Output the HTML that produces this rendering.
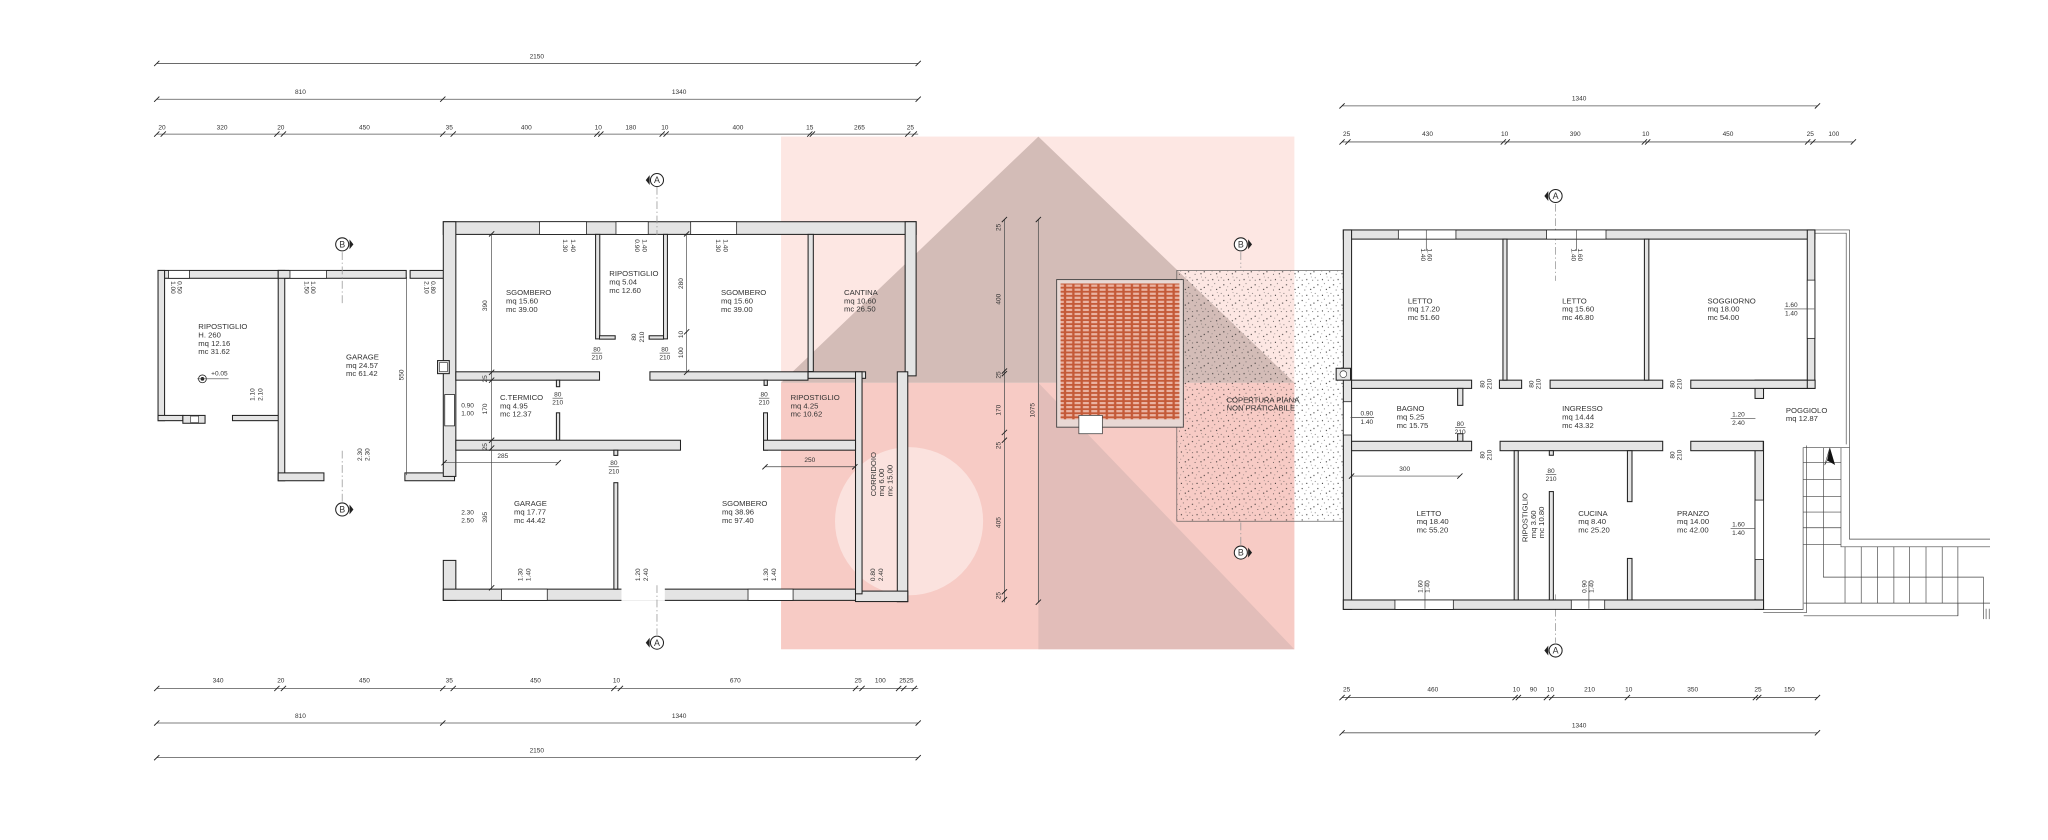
<!DOCTYPE html>
<html><head><meta charset="utf-8"><style>
html,body{margin:0;padding:0;background:#fff}
svg{display:block}
text{font-family:"Liberation Sans",sans-serif;fill:#333}
.t{font-size:5.9px}
.d{font-size:5px;text-anchor:middle}
.w{fill:#e4e4e4;stroke:#222;stroke-width:0.8}
.win{fill:#fff;stroke:#222;stroke-width:0.6}
.dl{stroke:#555;stroke-width:0.6;fill:none}
.tk{stroke:#222;stroke-width:0.7}
.ln{stroke:#444;stroke-width:0.5;fill:none}
.sec{stroke:#999;stroke-width:0.6;stroke-dasharray:6,2,1,2;fill:none}
</style></head><body>
<svg width="2048" height="840" viewBox="0 0 1568 643" xmlns="http://www.w3.org/2000/svg">
<defs>
<pattern id="tile" width="6.4" height="3.1" patternUnits="userSpaceOnUse" x="809" y="214">
<rect width="6.4" height="3.1" fill="#c45a38"/><rect x="0.9" y="0.7" width="4.6" height="1.7" fill="#eab3a2"/>
</pattern>
<pattern id="dots" width="12" height="12" patternUnits="userSpaceOnUse">
<circle cx="1" cy="2" r="0.45" fill="#222"/><circle cx="6" cy="1" r="0.35" fill="#444"/><circle cx="10" cy="4" r="0.45" fill="#222"/>
<circle cx="3" cy="6" r="0.35" fill="#333"/><circle cx="7.5" cy="5.5" r="0.45" fill="#222"/><circle cx="11" cy="8.5" r="0.35" fill="#444"/>
<circle cx="4.5" cy="10" r="0.45" fill="#222"/><circle cx="9" cy="10.5" r="0.35" fill="#333"/><circle cx="1" cy="10.5" r="0.35" fill="#333"/>
<circle cx="8" cy="8" r="0.3" fill="#555"/><circle cx="4" cy="3.5" r="0.3" fill="#555"/>
</pattern>
</defs>

<!-- pink overlay -->
<rect x="598" y="104.5" width="393" height="392.5" fill="#fde7e3"/>
<rect x="598" y="293" width="393" height="204" fill="#f7cbc5"/>
<circle cx="696" cy="399" r="56.7" fill="#fbe2de"/>
<polygon points="795,104.5 598,293 991,293" fill="#d3bcb7"/>
<polygon points="795,293 795,497 991,497" fill="#e2bdb9"/>

<!-- dotted roof -->
<rect x="901" y="207" width="129" height="192" fill="url(#dots)" stroke="#555" stroke-width="0.5"/>
<!-- tiled roof -->
<rect x="809" y="214" width="97" height="113" fill="#e8d8d4" stroke="#444" stroke-width="0.7"/>
<rect x="812" y="217" width="91" height="104" fill="url(#tile)"/>
<rect x="826" y="318" width="18" height="14" fill="#fff" stroke="#444" stroke-width="0.6"/>
<text class="t" x="939" y="308">COPERTURA PIANA</text>
<text class="t" x="939" y="314.4">NON PRATICABILE</text>

<!-- ============ LEFT DIMENSIONS ============ -->
<g>
<line class="dl" x1="120" y1="48.5" x2="703" y2="48.5"/>
<text class="d" x="411" y="44.6">2150</text>
<line class="dl" x1="120" y1="75.9" x2="703" y2="75.9"/>
<text class="d" x="230" y="72">810</text><text class="d" x="520" y="72">1340</text>
<line class="dl" x1="120" y1="102.6" x2="703" y2="102.6"/>
<g class="tk">
<path d="M118,50.5l4,-4M701,50.5l4,-4M118,77.9l4,-4M337,77.9l4,-4M701,77.9l4,-4"/>
<path d="M118,104.6l4,-4M123,104.6l4,-4M210,104.6l4,-4M215,104.6l4,-4M337,104.6l4,-4M345,104.6l4,-4M455,104.6l4,-4M458,104.6l4,-4M505,104.6l4,-4M508,104.6l4,-4M618,104.6l4,-4M620,104.6l4,-4M693,104.6l4,-4M698,104.6l4,-4"/>
</g>
<text class="d" x="124" y="99">20</text><text class="d" x="170" y="99">320</text><text class="d" x="215" y="99">20</text><text class="d" x="279" y="99">450</text><text class="d" x="344" y="99">35</text><text class="d" x="403" y="99">400</text><text class="d" x="458" y="99">10</text><text class="d" x="483" y="99">180</text><text class="d" x="509" y="99">10</text><text class="d" x="565" y="99">400</text><text class="d" x="620" y="99">15</text><text class="d" x="658" y="99">265</text><text class="d" x="697" y="99">25</text>

<line class="dl" x1="120" y1="527" x2="703" y2="527"/>
<path class="tk" d="M118,529l4,-4M210,529l4,-4M215,529l4,-4M337,529l4,-4M345,529l4,-4M468,529l4,-4M473,529l4,-4M653,529l4,-4M658,529l4,-4M686,529l4,-4M690,529l4,-4M698,529l4,-4"/>
<text class="d" x="167" y="522.5">340</text><text class="d" x="215" y="522.5">20</text><text class="d" x="279" y="522.5">450</text><text class="d" x="344" y="522.5">35</text><text class="d" x="410" y="522.5">450</text><text class="d" x="472" y="522.5">10</text><text class="d" x="563" y="522.5">670</text><text class="d" x="657" y="522.5">25</text><text class="d" x="674" y="522.5">100</text><text class="d" x="694" y="522.5">2525</text>
<line class="dl" x1="120" y1="553.5" x2="703" y2="553.5"/>
<path class="tk" d="M118,555.5l4,-4M337,555.5l4,-4M701,555.5l4,-4"/>
<text class="d" x="230" y="549.5">810</text><text class="d" x="520" y="549.5">1340</text>
<line class="dl" x1="120" y1="580" x2="703" y2="580"/>
<path class="tk" d="M118,582l4,-4M701,582l4,-4"/>
<text class="d" x="411" y="576">2150</text>
</g>

<!-- vertical dims middle -->
<line class="dl" x1="769" y1="168" x2="769" y2="461"/>
<path class="tk" d="M767,170l4,-4M767,286l4,-4M767,288l4,-4M767,333l4,-4M767,339l4,-4M767,455l4,-4M767,461l4,-4"/>
<g class="d">
<text transform="translate(766,174) rotate(-90)">25</text>
<text transform="translate(766,229) rotate(-90)">400</text>
<text transform="translate(766,287) rotate(-90)">25</text>
<text transform="translate(766,314) rotate(-90)">170</text>
<text transform="translate(766,341) rotate(-90)">25</text>
<text transform="translate(766,400) rotate(-90)">405</text>
<text transform="translate(766,456) rotate(-90)">25</text>
</g>
<line class="dl" x1="795" y1="168" x2="795" y2="461"/>
<path class="tk" d="M793,170l4,-4M793,463l4,-4"/>
<text class="d" transform="translate(792,314) rotate(-90)">1075</text>

<!-- ============ LEFT PLAN WALLS ============ -->
<g>
<rect class="w" x="121" y="207" width="100" height="6"/>
<rect class="w" x="121" y="207" width="5" height="115"/>
<rect class="w" x="121" y="318" width="19" height="4"/>
<rect class="w" x="178" y="318" width="36" height="4"/>
<rect class="w" x="140" y="318" width="17" height="6"/>
<rect x="146" y="318.5" width="6" height="5" fill="#fff" stroke="#333" stroke-width="0.5"/>
<rect class="w" x="213" y="207" width="5" height="161"/>
<rect class="w" x="213" y="207" width="98" height="6"/>
<rect class="w" x="314" y="207" width="26" height="6"/>
<rect class="w" x="213" y="362" width="35" height="6"/>
<rect class="w" x="310" y="362" width="38" height="6"/>
<rect class="win" x="129" y="207" width="16" height="6"/>
<rect class="win" x="222" y="207" width="28" height="6"/>
<rect class="w" x="339.4" y="169.7" width="362" height="9.7"/>
<rect class="w" x="339.4" y="169.7" width="9.6" height="195"/>
<rect class="w" x="339.4" y="429" width="9.6" height="30.6"/>
<rect class="w" x="693" y="169.7" width="8.4" height="118"/>
<rect class="w" x="687" y="284.6" width="8" height="176"/>
<rect class="w" x="339.4" y="451" width="316" height="8.6"/>
<rect class="w" x="655" y="452.5" width="40" height="8"/>
<rect class="w" x="618.7" y="179.4" width="4" height="105"/>
<rect class="w" x="618.7" y="284.6" width="44" height="5"/>
<rect class="w" x="655" y="284.6" width="5" height="170"/>
<rect class="w" x="349" y="284.6" width="110" height="6.4"/>
<rect class="w" x="426" y="291" width="2.5" height="5"/>
<rect class="w" x="497.6" y="284.6" width="121" height="6.4"/>
<rect class="w" x="585" y="291" width="2.5" height="4"/>
<rect class="w" x="456" y="179.4" width="3.2" height="80"/>
<rect class="w" x="459" y="257" width="12" height="2.6"/>
<rect class="w" x="508" y="179.4" width="3" height="80"/>
<rect class="w" x="497" y="257" width="11" height="2.6"/>
<rect class="w" x="426" y="316" width="2.5" height="21"/>
<rect class="w" x="349" y="337" width="172" height="7.6"/>
<rect class="w" x="470" y="344.6" width="3" height="4"/>
<rect class="w" x="470" y="369.5" width="3" height="81.5"/>
<rect class="w" x="584.6" y="316" width="3" height="28.6"/>
<rect class="w" x="584.6" y="337" width="70.4" height="7.6"/>
<rect class="win" x="413" y="169.7" width="36" height="9.7"/>
<rect class="win" x="471.6" y="169.7" width="24.7" height="9.7"/>
<rect class="win" x="528.8" y="169.7" width="35.2" height="9.7"/>
<rect class="win" x="384" y="451" width="35" height="8.6"/>
<rect class="win" x="572.7" y="451" width="34.5" height="8.6"/>
<rect class="win" x="340.5" y="302" width="7.5" height="24"/>
<rect class="w" x="335" y="276" width="9" height="10"/>
<rect x="336.5" y="277.5" width="6" height="7" fill="#fff" stroke="#333" stroke-width="0.5"/>
<rect x="475.8" y="450.5" width="33.2" height="9.5" fill="#fff"/>
</g>

<!-- left plan inner dims -->
<line class="ln" x1="376.4" y1="179" x2="376.4" y2="451"/>
<path class="tk" d="M374.4,181l4,-4M374.4,287l4,-4M374.4,293l4,-4M374.4,339l4,-4M374.4,345l4,-4M374.4,452l4,-4"/>
<g class="d">
<text transform="translate(373,234) rotate(-90)">390</text>
<text transform="translate(373,313) rotate(-90)">170</text>
<text transform="translate(373,396) rotate(-90)">395</text>
<text transform="translate(373,290) rotate(-90)">25</text>
<text transform="translate(373,342) rotate(-90)">25</text>
</g>
<line class="ln" x1="525.7" y1="179" x2="525.7" y2="285"/>
<path class="tk" d="M523.7,181l4,-4M523.7,256l4,-4M523.7,287l4,-4"/>
<text class="d" transform="translate(523,217) rotate(-90)">280</text>
<text class="d" transform="translate(523,256) rotate(-90)">10</text>
<text class="d" transform="translate(523,270) rotate(-90)">100</text>
<line class="ln" x1="311.3" y1="212" x2="311.3" y2="363.7"/>
<text class="d" transform="translate(309,287) rotate(-90)">550</text>
<line class="ln" x1="340" y1="354.2" x2="427.4" y2="354.2"/>
<path class="tk" d="M338,356.2l4,-4M425.4,356.2l4,-4"/>
<text class="d" x="385" y="350.5">285</text>
<line class="ln" x1="585.7" y1="357.3" x2="654.5" y2="357.3"/>
<path class="tk" d="M583.7,359.3l4,-4M652.5,359.3l4,-4"/>
<text class="d" x="620" y="353.5">250</text>

<g class="d">
<text x="457" y="269">80</text><line class="ln" x1="453" y1="270.3" x2="461" y2="270.3"/><text x="457" y="275.3">210</text>
<text x="509" y="269">80</text><line class="ln" x1="505" y1="270.3" x2="513" y2="270.3"/><text x="509" y="275.3">210</text>
<text x="427" y="303.5">80</text><line class="ln" x1="423" y1="304.8" x2="431" y2="304.8"/><text x="427" y="309.8">210</text>
<text x="585" y="303.5">80</text><line class="ln" x1="581" y1="304.8" x2="589" y2="304.8"/><text x="585" y="309.8">210</text>
<text x="470" y="356">80</text><line class="ln" x1="466" y1="357.3" x2="474" y2="357.3"/><text x="470" y="362.3">210</text>
<text transform="translate(487,258) rotate(-90)">80</text><text transform="translate(493,258) rotate(-90)">210</text>
<text x="358" y="312">0.90</text><text x="358" y="318">1.00</text>
<text x="358" y="394">2.30</text><text x="358" y="400">2.50</text>
<text transform="translate(431,188) rotate(90)">1.30</text><text transform="translate(437,188) rotate(90)">1.40</text>
<text transform="translate(486,188) rotate(90)">0.90</text><text transform="translate(492,188) rotate(90)">1.40</text>
<text transform="translate(548,188) rotate(90)">1.30</text><text transform="translate(554,188) rotate(90)">1.40</text>
<text transform="translate(136,220) rotate(90)">0.50</text><text transform="translate(131,220) rotate(90)">1.00</text>
<text transform="translate(238,220) rotate(90)">1.00</text><text transform="translate(233,220) rotate(90)">1.50</text>
<text transform="translate(330,220) rotate(90)">0.80</text><text transform="translate(325,220) rotate(90)">2.10</text>
<text transform="translate(195,302) rotate(-90)">1.10</text><text transform="translate(201,302) rotate(-90)">2.10</text>
<text transform="translate(277,348) rotate(-90)">2.30</text><text transform="translate(283,348) rotate(-90)">2.30</text>
<text transform="translate(400,440) rotate(-90)">1.30</text><text transform="translate(406,440) rotate(-90)">1.40</text>
<text transform="translate(490,440) rotate(-90)">1.20</text><text transform="translate(496,440) rotate(-90)">2.40</text>
<text transform="translate(588,440) rotate(-90)">1.30</text><text transform="translate(594,440) rotate(-90)">1.40</text>
<text transform="translate(670,440) rotate(-90)">0.80</text><text transform="translate(676,440) rotate(-90)">2.40</text>
</g>
<circle cx="155" cy="290" r="3" fill="#fff" stroke="#222" stroke-width="0.6"/><circle cx="155" cy="290" r="1.4" fill="#222"/>
<line class="ln" x1="151" y1="290" x2="175" y2="290"/>
<text class="d" x="168" y="287.5">+0.05</text>

<g class="t">
<text x="151.8" y="251.9">RIPOSTIGLIO<tspan x="151.8" dy="6.4">H. 260</tspan><tspan x="151.8" dy="6.4">mq 12.16</tspan><tspan x="151.8" dy="6.4">mc 31.62</tspan></text>
<text x="264.9" y="275.1">GARAGE<tspan x="264.9" dy="6.4">mq 24.57</tspan><tspan x="264.9" dy="6.4">mc 61.42</tspan></text>
<text x="387.4" y="225.9">SGOMBERO<tspan x="387.4" dy="6.4">mq 15.60</tspan><tspan x="387.4" dy="6.4">mc 39.00</tspan></text>
<text x="466.5" y="211.3">RIPOSTIGLIO<tspan x="466.5" dy="6.4">mq 5.04</tspan><tspan x="466.5" dy="6.4">mc 12.60</tspan></text>
<text x="552" y="225.9">SGOMBERO<tspan x="552" dy="6.4">mq 15.60</tspan><tspan x="552" dy="6.4">mc 39.00</tspan></text>
<text x="646.2" y="225.8">CANTINA<tspan x="646.2" dy="6.4">mq 10.60</tspan><tspan x="646.2" dy="6.4">mc 26.50</tspan></text>
<text x="382.8" y="306.2">C.TERMICO<tspan x="382.8" dy="6.4">mq 4.95</tspan><tspan x="382.8" dy="6.4">mc 12.37</tspan></text>
<text x="605.3" y="306.2">RIPOSTIGLIO<tspan x="605.3" dy="6.4">mq 4.25</tspan><tspan x="605.3" dy="6.4">mc 10.62</tspan></text>
<text x="393.5" y="387.4">GARAGE<tspan x="393.5" dy="6.4">mq 17.77</tspan><tspan x="393.5" dy="6.4">mc 44.42</tspan></text>
<text x="552.8" y="387.4">SGOMBERO<tspan x="552.8" dy="6.4">mq 38.96</tspan><tspan x="552.8" dy="6.4">mc 97.40</tspan></text>
<text transform="translate(670.5,380) rotate(-90)">CORRIDOIO<tspan x="0" dy="6.4">mq 6.00</tspan><tspan x="0" dy="6.4">mc 15.00</tspan></text>
</g>

<g>
<line class="sec" x1="503" y1="143" x2="503" y2="180"/><line class="sec" x1="503" y1="448" x2="503" y2="486"/>
<line class="sec" x1="262" y1="193" x2="262" y2="232"/><line class="sec" x1="262" y1="345" x2="262" y2="384"/>
<line class="sec" x1="1191" y1="156" x2="1191" y2="215"/><line class="sec" x1="1191" y1="455" x2="1191" y2="492"/>
<line class="sec" x1="950" y1="193" x2="950" y2="205"/><line class="sec" x1="950" y1="400" x2="950" y2="417"/>
</g>
<g font-size="6.8" text-anchor="middle">
<g transform="translate(503,137.8)"><circle r="5" fill="#fff" stroke="#222" stroke-width="0.8"/><path d="M-5.6,-3.8L-8.6,0L-5.6,3.8Z" fill="#222"/><text y="2.4">A</text></g>
<g transform="translate(503,492)"><circle r="5" fill="#fff" stroke="#222" stroke-width="0.8"/><path d="M-5.6,-3.8L-8.6,0L-5.6,3.8Z" fill="#222"/><text y="2.4">A</text></g>
<g transform="translate(262,187)"><circle r="5" fill="#fff" stroke="#222" stroke-width="0.8"/><path d="M5.6,-3.8L8.6,0L5.6,3.8Z" fill="#222"/><text y="2.4">B</text></g>
<g transform="translate(262,390)"><circle r="5" fill="#fff" stroke="#222" stroke-width="0.8"/><path d="M5.6,-3.8L8.6,0L5.6,3.8Z" fill="#222"/><text y="2.4">B</text></g>
<g transform="translate(1191,150)"><circle r="5" fill="#fff" stroke="#222" stroke-width="0.8"/><path d="M-5.6,-3.8L-8.6,0L-5.6,3.8Z" fill="#222"/><text y="2.4">A</text></g>
<g transform="translate(1191,498)"><circle r="5" fill="#fff" stroke="#222" stroke-width="0.8"/><path d="M-5.6,-3.8L-8.6,0L-5.6,3.8Z" fill="#222"/><text y="2.4">A</text></g>
<g transform="translate(950,187)"><circle r="5" fill="#fff" stroke="#222" stroke-width="0.8"/><path d="M5.6,-3.8L8.6,0L5.6,3.8Z" fill="#222"/><text y="2.4">B</text></g>
<g transform="translate(950,423)"><circle r="5" fill="#fff" stroke="#222" stroke-width="0.8"/><path d="M5.6,-3.8L8.6,0L5.6,3.8Z" fill="#222"/><text y="2.4">B</text></g>
</g>

<!-- ============ RIGHT DIMENSIONS ============ -->
<line class="dl" x1="1027.5" y1="81" x2="1391.5" y2="81"/>
<path class="tk" d="M1025.5,83l4,-4M1389.5,83l4,-4"/>
<text class="d" x="1209" y="77">1340</text>
<line class="dl" x1="1027.5" y1="108.6" x2="1419" y2="108.6"/>
<path class="tk" d="M1025.5,110.6l4,-4M1030,110.6l4,-4M1149,110.6l4,-4M1152,110.6l4,-4M1257,110.6l4,-4M1259.5,110.6l4,-4M1382,110.6l4,-4M1386,110.6l4,-4M1417,110.6l4,-4"/>
<text class="d" x="1031" y="104">25</text><text class="d" x="1093" y="104">430</text><text class="d" x="1152" y="104">10</text><text class="d" x="1206" y="104">390</text><text class="d" x="1260" y="104">10</text><text class="d" x="1323" y="104">450</text><text class="d" x="1386" y="104">25</text><text class="d" x="1404" y="104">100</text>
<line class="dl" x1="1027.5" y1="534" x2="1391.5" y2="534"/>
<path class="tk" d="M1025.5,536l4,-4M1030,536l4,-4M1158,536l4,-4M1160.5,536l4,-4M1182,536l4,-4M1186,536l4,-4M1244,536l4,-4M1342,536l4,-4M1344.5,536l4,-4M1389.5,536l4,-4"/>
<text class="d" x="1031" y="529.5">25</text><text class="d" x="1097" y="529.5">460</text><text class="d" x="1161" y="529.5">10</text><text class="d" x="1174" y="529.5">90</text><text class="d" x="1187" y="529.5">10</text><text class="d" x="1217" y="529.5">210</text><text class="d" x="1247" y="529.5">10</text><text class="d" x="1296" y="529.5">350</text><text class="d" x="1346" y="529.5">25</text><text class="d" x="1370" y="529.5">150</text>
<line class="dl" x1="1027.5" y1="561" x2="1391.5" y2="561"/>
<path class="tk" d="M1025.5,563l4,-4M1389.5,563l4,-4"/>
<text class="d" x="1209" y="557">1340</text>

<!-- ============ RIGHT PLAN ============ -->
<g>
<path class="ln" d="M1389.5,176H1416V342.7H1380.5V466.5H1350"/>
<path class="ln" d="M1389.5,178.5H1413.5V340.2"/>
<path class="ln" d="M1383,341V469H1350"/>
<path class="ln" d="M1409.5,342.7V418.6H1523.6M1416,342.7V412.7H1523.6"/>
<path class="ln" d="M1380.5,354H1409.5M1380.5,367H1409.5M1380.5,380H1409.5M1380.5,392H1409.5M1380.5,404H1409.5M1380.5,417H1409.5"/>
<path class="ln" d="M1396,342.7V441.8H1518.5V474"/>
<path class="ln" d="M1412.6,418.6V461.7M1425,418.6V461.7M1437.5,418.6V461.7M1450,418.6V461.7M1462,418.6V461.7M1474.6,418.6V461.7M1487,418.6V461.7M1499,418.6V471.4"/>
<path class="ln" d="M1381,461.7H1499V471.4H1381M1499,461.7H1523.6"/>
<path class="ln" d="M1520.6,466V474M1523,466V474"/>
<path d="M1401,342.5L1405,356L1399,352.5Z" fill="#111"/><path d="M1401,342.5L1397,356L1399,352.5Z" fill="#fff" stroke="#333" stroke-width="0.4"/>

<rect class="w" x="1028.5" y="176" width="361" height="7"/>
<rect class="w" x="1028.5" y="176" width="6.3" height="290.5"/>
<rect class="w" x="1383.7" y="176" width="5.8" height="121.3"/>
<rect class="w" x="1343.7" y="291" width="46" height="6.3"/>
<rect class="w" x="1343.7" y="297" width="6.5" height="8"/>
<rect class="w" x="1343.7" y="338" width="6.5" height="128.5"/>
<rect class="w" x="1028.5" y="459.3" width="321.7" height="7.2"/>
<rect class="w" x="1034.8" y="291" width="91.9" height="6.3"/>
<rect class="w" x="1148" y="291" width="17" height="6.3"/>
<rect class="w" x="1186.8" y="291" width="86.2" height="6.3"/>
<rect class="w" x="1294.5" y="291" width="89.2" height="6.3"/>
<rect class="w" x="1150.7" y="183" width="3.1" height="108"/>
<rect class="w" x="1259" y="183" width="3.4" height="108"/>
<rect class="w" x="1116" y="297.3" width="4" height="13"/>
<rect class="w" x="1116" y="332" width="4" height="6"/>
<rect class="w" x="1034.8" y="337.8" width="91.9" height="7.2"/>
<rect class="w" x="1148.5" y="337.8" width="124.5" height="7.2"/>
<rect class="w" x="1294.5" y="337.8" width="55.5" height="7.2"/>
<rect class="w" x="1159.3" y="345" width="3.1" height="114.3"/>
<rect class="w" x="1186.2" y="345" width="3.1" height="3.5"/>
<rect class="w" x="1186.2" y="376.3" width="3.1" height="83"/>
<rect class="w" x="1246" y="345" width="3.5" height="39"/>
<rect class="w" x="1246" y="427.5" width="3.5" height="31.8"/>
<rect class="win" x="1070.6" y="176" width="44.1" height="7"/>
<rect class="win" x="1184.1" y="176" width="45.5" height="7"/>
<rect class="win" x="1383.7" y="214.4" width="5.8" height="44.6"/>
<rect class="win" x="1343.7" y="382.8" width="6.5" height="45.5"/>
<rect class="win" x="1028.5" y="307.5" width="6.3" height="25.5"/>
<rect class="win" x="1068" y="459.3" width="44.7" height="7.2"/>
<rect class="win" x="1203" y="459.3" width="25.6" height="7.2"/>
<rect class="w" x="1023" y="281.9" width="11" height="9.1"/>
<circle cx="1028.5" cy="286.4" r="2.6" fill="#fff" stroke="#333" stroke-width="0.5"/>
</g>

<g class="t">
<text x="1077.9" y="232.2">LETTO<tspan x="1077.9" dy="6.4">mq 17.20</tspan><tspan x="1077.9" dy="6.4">mc 51.60</tspan></text>
<text x="1196" y="232.2">LETTO<tspan x="1196" dy="6.4">mq 15.60</tspan><tspan x="1196" dy="6.4">mc 46.80</tspan></text>
<text x="1307.3" y="232.2">SOGGIORNO<tspan x="1307.3" dy="6.4">mq 18.00</tspan><tspan x="1307.3" dy="6.4">mc 54.00</tspan></text>
<text x="1069.3" y="314.8">BAGNO<tspan x="1069.3" dy="6.4">mq 5.25</tspan><tspan x="1069.3" dy="6.4">mc 15.75</tspan></text>
<text x="1196" y="314.8">INGRESSO<tspan x="1196" dy="6.4">mq 14.44</tspan><tspan x="1196" dy="6.4">mc 43.32</tspan></text>
<text x="1367.3" y="316">POGGIOLO<tspan x="1367.3" dy="6.4">mq 12.87</tspan></text>
<text x="1084.6" y="394.9">LETTO<tspan x="1084.6" dy="6.4">mq 18.40</tspan><tspan x="1084.6" dy="6.4">mc 55.20</tspan></text>
<text x="1208.3" y="394.9">CUCINA<tspan x="1208.3" dy="6.4">mq 8.40</tspan><tspan x="1208.3" dy="6.4">mc 25.20</tspan></text>
<text x="1284" y="394.9">PRANZO<tspan x="1284" dy="6.4">mq 14.00</tspan><tspan x="1284" dy="6.4">mc 42.00</tspan></text>
<text transform="translate(1169.5,415) rotate(-90)">RIPOSTIGLIO<tspan x="3" dy="6.4">mq 3.60</tspan><tspan x="3" dy="6.4">mc 10.80</tspan></text>
</g>
<g class="d">
<text x="1371.5" y="235">1.60</text><line class="ln" x1="1366" y1="236.5" x2="1389" y2="236.5"/><text x="1371.5" y="241.5">1.40</text>
<text x="1046.5" y="318">0.90</text><line class="ln" x1="1034" y1="319.5" x2="1052" y2="319.5"/><text x="1046.5" y="324.5">1.40</text>
<text x="1331" y="319">1.20</text><line class="ln" x1="1325" y1="320.5" x2="1344" y2="320.5"/><text x="1331" y="325.5">2.40</text>
<text x="1331" y="403">1.60</text><line class="ln" x1="1325" y1="404.5" x2="1344" y2="404.5"/><text x="1331" y="409.5">1.40</text>
<text x="1118" y="326">80</text><line class="ln" x1="1114" y1="327.3" x2="1122" y2="327.3"/><text x="1118" y="332.3">210</text>
<text x="1187.5" y="362">80</text><line class="ln" x1="1183.5" y1="363.3" x2="1191.5" y2="363.3"/><text x="1187.5" y="368.3">210</text>
<text transform="translate(1136.5,294) rotate(-90)">80</text><text transform="translate(1142,294) rotate(-90)">210</text>
<text transform="translate(1174,294) rotate(-90)">80</text><text transform="translate(1179.5,294) rotate(-90)">210</text>
<text transform="translate(1282,294) rotate(-90)">80</text><text transform="translate(1287.5,294) rotate(-90)">210</text>
<text transform="translate(1136.5,348.3) rotate(-90)">80</text><text transform="translate(1142,348.3) rotate(-90)">210</text>
<text transform="translate(1282,348.3) rotate(-90)">80</text><text transform="translate(1287.5,348.3) rotate(-90)">210</text>
<text transform="translate(1093,195) rotate(90)">1.60</text><text transform="translate(1088,195) rotate(90)">1.40</text>
<text transform="translate(1208,195) rotate(90)">1.60</text><text transform="translate(1203,195) rotate(90)">1.40</text>
<text transform="translate(1089,449) rotate(-90)">1.60</text><text transform="translate(1094.5,449) rotate(-90)">1.40</text>
<text transform="translate(1214.5,449) rotate(-90)">0.90</text><text transform="translate(1220,449) rotate(-90)">1.40</text>
</g>
<line class="ln" x1="1092" y1="176" x2="1092" y2="192"/><line class="ln" x1="1207" y1="176" x2="1207" y2="192"/>
<line class="ln" x1="1091" y1="445" x2="1091" y2="466"/><line class="ln" x1="1216.5" y1="445" x2="1216.5" y2="466"/>
<line class="ln" x1="1034.8" y1="364.4" x2="1117.7" y2="364.4"/>
<path class="tk" d="M1032.8,366.4l4,-4M1115.7,366.4l4,-4"/>
<text class="d" x="1075.5" y="360.5">300</text>
</svg>
</body></html>
